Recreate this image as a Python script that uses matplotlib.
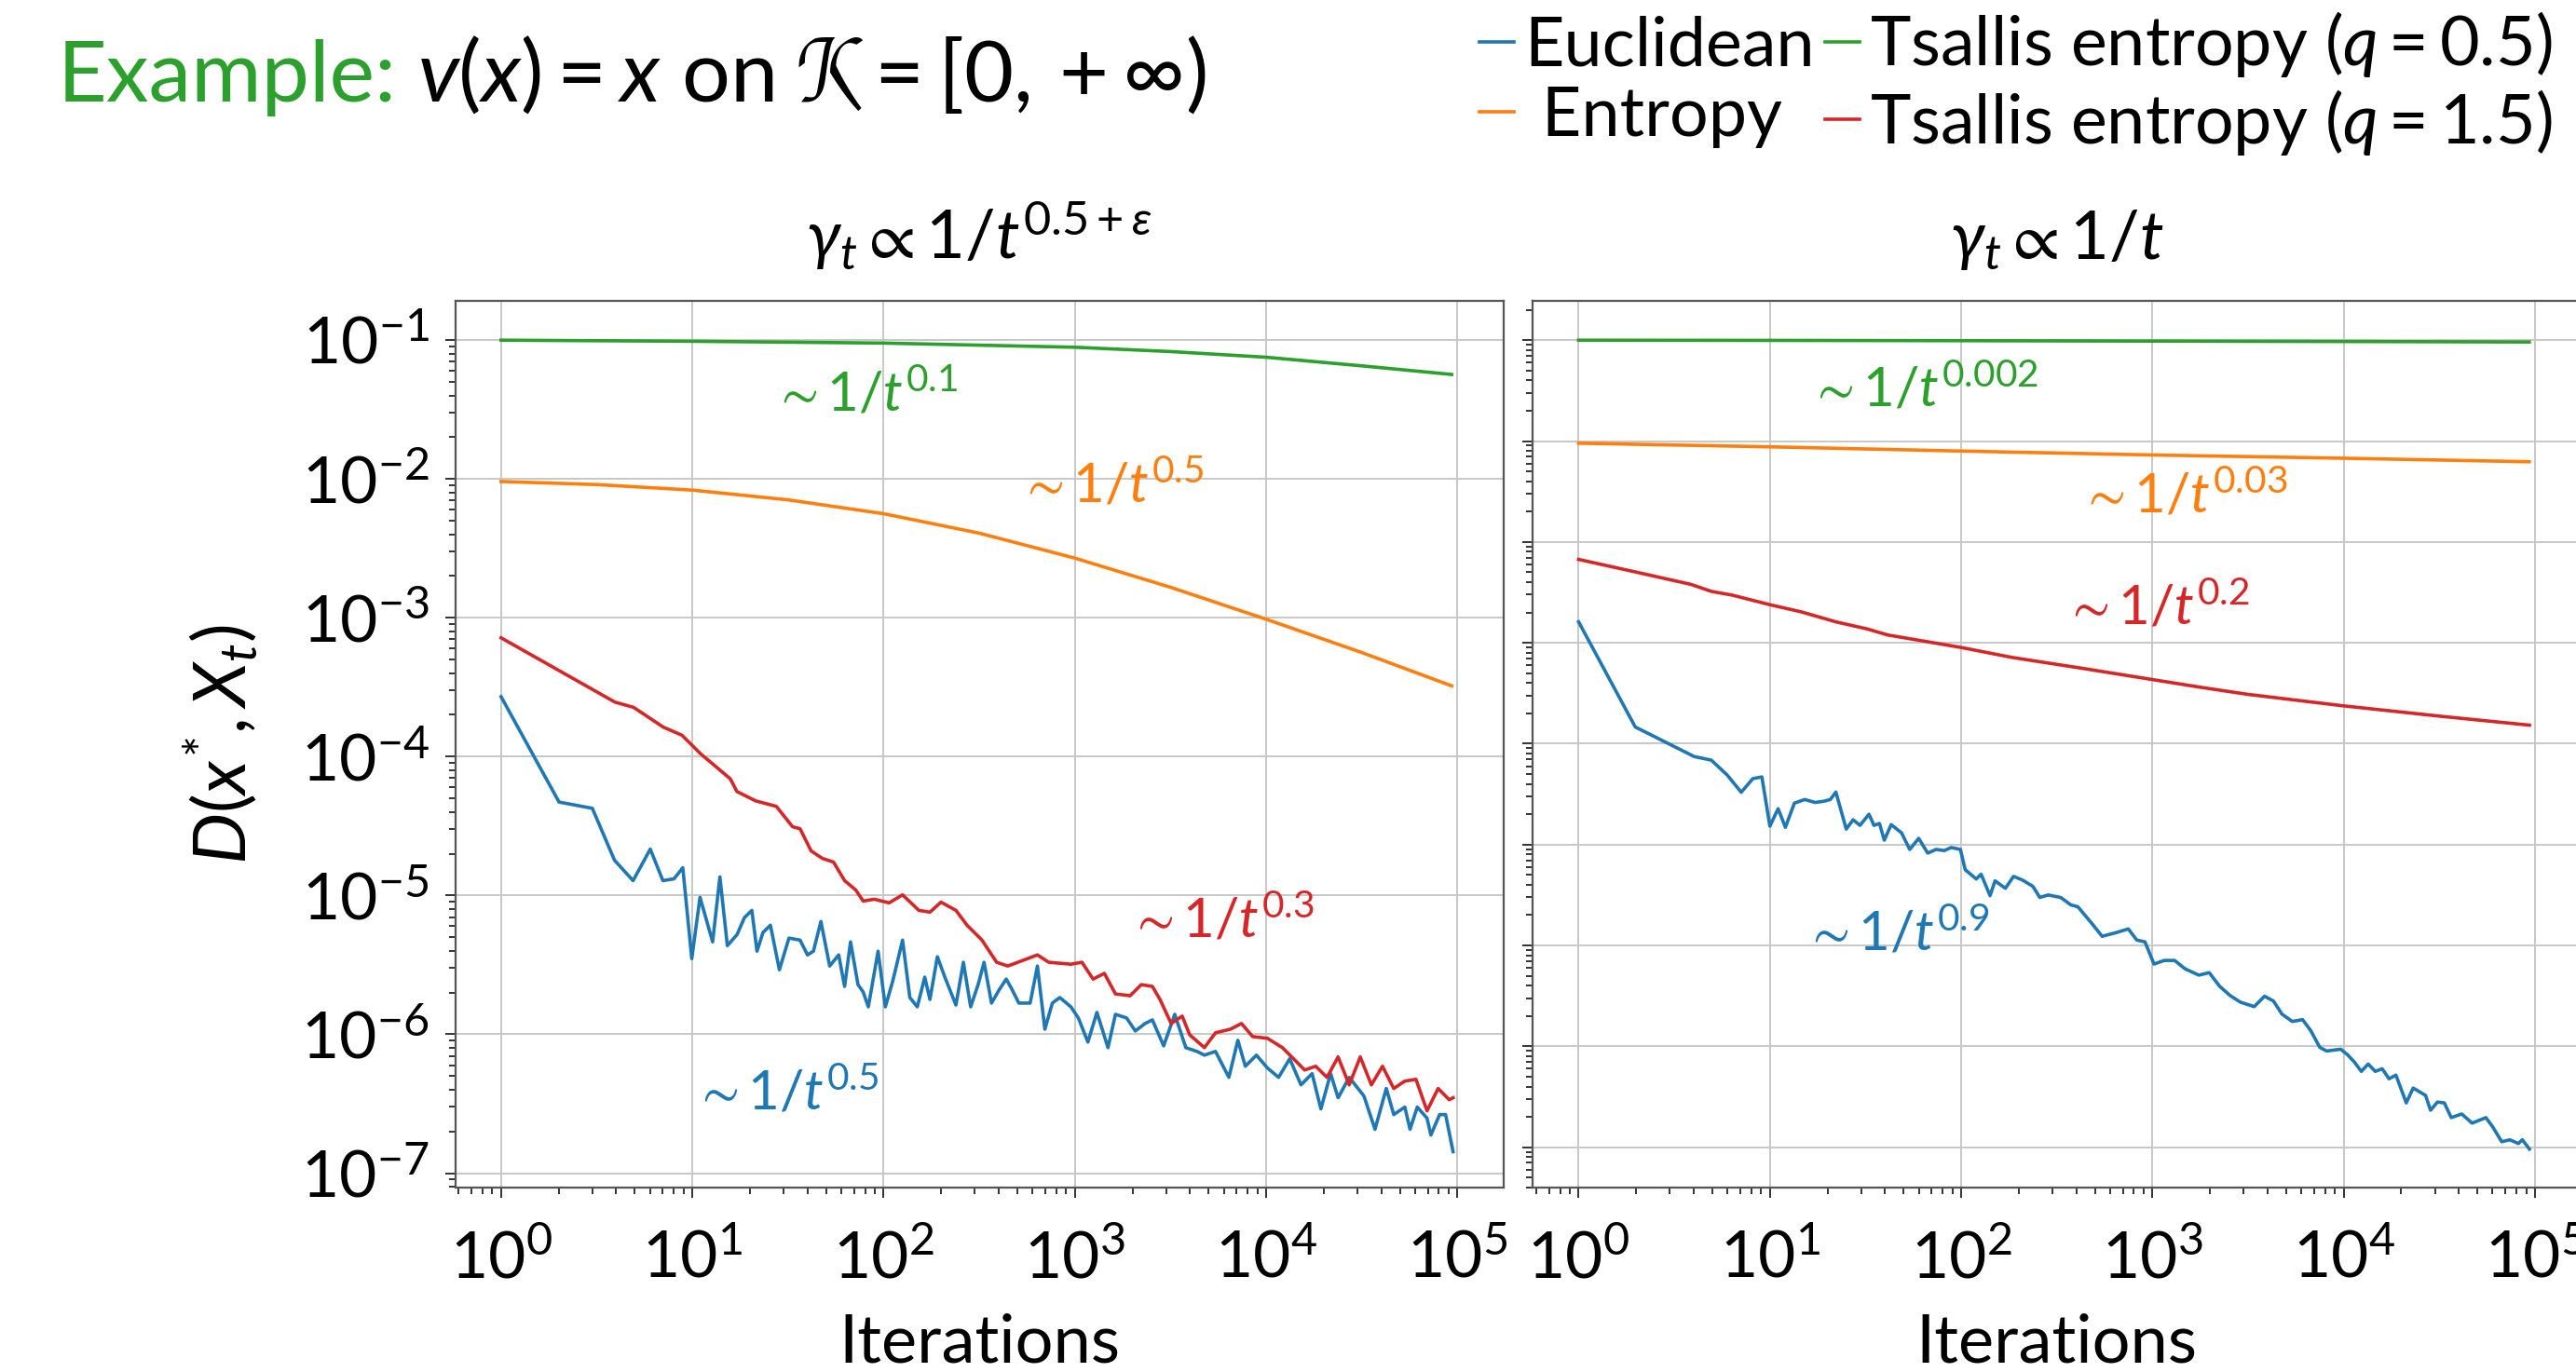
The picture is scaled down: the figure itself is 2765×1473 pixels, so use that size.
import numpy as np
import matplotlib
matplotlib.use("Agg")
import matplotlib.pyplot as plt
from matplotlib.ticker import LogLocator, NullFormatter

plt.rcParams['font.family'] = ['Lato', 'DejaVu Sans']
plt.rcParams['mathtext.fontset'] = 'custom'
plt.rcParams['mathtext.rm'] = 'Lato'
plt.rcParams['mathtext.it'] = 'Lato:italic'
plt.rcParams['mathtext.bf'] = 'Lato:bold'
plt.rcParams['mathtext.sf'] = 'Lato'
plt.rcParams['mathtext.fallback'] = 'stixsans'

C_EUC, C_ENT, C_TS05, C_TS15 = '#1f77b4', '#ff7f0e', '#2ca02c', '#d62728'

# ---- left panel, gamma_t ~ 1/t^(0.5+eps)  (log10 t, log10 D) ----
L_green_t = [0, 1, 2, 3, 3.5, 4, 4.5, 4.97]
L_green_d = [-1.0, -1.008, -1.021, -1.051, -1.082, -1.123, -1.185, -1.247]

L_orange_t = [0, 0.5, 1, 1.5, 2, 2.5, 3, 3.5, 4, 4.5, 4.97]
L_orange_d = [-2.018, -2.04, -2.08, -2.15, -2.25, -2.39, -2.57, -2.78, -3.01, -3.25, -3.49]

L_red_t = [0, 0.595, 0.693, 0.848, 0.946, 1.043, 1.198, 1.233, 1.33, 1.439, 1.524, 1.563,
           1.621, 1.68, 1.738, 1.796, 1.854, 1.893, 1.951, 2.029, 2.099, 2.184, 2.242, 2.3,
           2.378, 2.436, 2.514, 2.591, 2.649, 2.727, 2.804, 2.863, 2.979, 3.037, 3.095, 3.154,
           3.212, 3.289, 3.347, 3.405, 3.445, 3.503, 3.561, 3.6, 3.677, 3.735, 3.813, 3.871,
           3.929, 4.007, 4.085, 4.143, 4.201, 4.259, 4.318, 4.376, 4.434, 4.492, 4.55, 4.608,
           4.667, 4.725, 4.783, 4.841, 4.899, 4.957, 4.977]
L_red_d = [-3.144, -3.607, -3.645, -3.787, -3.846, -3.979, -4.159, -4.251, -4.318, -4.358,
           -4.505, -4.519, -4.679, -4.733, -4.759, -4.893, -4.96, -5.04, -5.027, -5.053,
           -4.995, -5.107, -5.12, -5.048, -5.107, -5.214, -5.321, -5.481, -5.508, -5.468,
           -5.428, -5.481, -5.495, -5.481, -5.602, -5.561, -5.709, -5.722, -5.642, -5.655,
           -5.749, -5.922, -5.869, -6.003, -6.096, -5.989, -5.963, -5.922, -6.016, -6.029,
           -6.096, -6.176, -6.257, -6.23, -6.31, -6.163, -6.364, -6.163, -6.364, -6.23,
           -6.39, -6.337, -6.324, -6.551, -6.39, -6.471, -6.457]

L_blue_t = [0, 0.303, 0.477, 0.593, 0.69, 0.78, 0.846, 0.904, 0.95, 0.997, 1.04, 1.106,
            1.144, 1.183, 1.234, 1.272, 1.311, 1.338, 1.369, 1.408, 1.455, 1.505, 1.563,
            1.602, 1.633, 1.672, 1.718, 1.765, 1.796, 1.827, 1.866, 1.893, 1.92, 1.971,
            2.009, 2.048, 2.099, 2.137, 2.176, 2.215, 2.242, 2.281, 2.32, 2.378, 2.417,
            2.455, 2.494, 2.525, 2.564, 2.603, 2.641, 2.668, 2.707, 2.766, 2.804, 2.843,
            2.882, 2.921, 2.979, 3.018, 3.068, 3.115, 3.173, 3.212, 3.27, 3.316, 3.367,
            3.405, 3.464, 3.522, 3.58, 3.638, 3.677, 3.735, 3.805, 3.852, 3.891, 3.949,
            4.007, 4.065, 4.123, 4.182, 4.24, 4.286, 4.337, 4.376, 4.434, 4.511, 4.569,
            4.628, 4.667, 4.725, 4.752, 4.79, 4.841, 4.861, 4.907, 4.938, 4.977]
L_blue_d = [-3.568, -4.327, -4.372, -4.746, -4.893, -4.666, -4.893, -4.88, -4.8, -5.455,
            -5.013, -5.334, -4.866, -5.361, -5.281, -5.16, -5.107, -5.401, -5.267, -5.214,
            -5.535, -5.307, -5.321, -5.428, -5.401, -5.187, -5.508, -5.428, -5.655, -5.334,
            -5.642, -5.695, -5.802, -5.401, -5.802, -5.615, -5.321, -5.735, -5.802, -5.588,
            -5.749, -5.441, -5.588, -5.789, -5.481, -5.802, -5.642, -5.481, -5.775, -5.682,
            -5.602, -5.668, -5.775, -5.775, -5.508, -5.963, -5.775, -5.735, -5.802, -5.882,
            -6.056, -5.842, -6.096, -5.856, -5.882, -5.976, -5.922, -5.896, -6.083, -5.856,
            -6.096, -6.123, -6.15, -6.123, -6.31, -6.043, -6.23, -6.15, -6.243, -6.31,
            -6.176, -6.364, -6.283, -6.537, -6.283, -6.457, -6.31, -6.444, -6.684, -6.39,
            -6.578, -6.524, -6.684, -6.524, -6.604, -6.725, -6.578, -6.578, -6.845]

# ---- right panel, gamma_t ~ 1/t ----
R_green_t = [0, 1, 2, 3, 4, 4.97]
R_green_d = [-1.0, -1.002, -1.005, -1.009, -1.013, -1.018]

R_orange_t = [0, 1, 2, 3, 4, 4.97]
R_orange_d = [-2.021, -2.057, -2.099, -2.138, -2.17, -2.205]

R_red_t = [0, 0.296, 0.586, 0.694, 0.803, 1.0, 1.164, 1.345, 1.508, 1.616, 2.0, 2.267,
           2.628, 3.0, 3.25, 3.496, 4.0, 4.508, 4.971]
R_red_d = [-3.173, -3.297, -3.42, -3.49, -3.527, -3.622, -3.693, -3.792, -3.862, -3.922,
           -4.046, -4.145, -4.251, -4.364, -4.44, -4.51, -4.625, -4.728, -4.816]

R_blue_t = [0, 0.296, 0.604, 0.694, 0.777, 0.85, 0.911, 0.958, 1.0, 1.043, 1.081, 1.128,
            1.182, 1.236, 1.28, 1.316, 1.345, 1.399, 1.435, 1.471, 1.518, 1.544, 1.573,
            1.598, 1.634, 1.688, 1.731, 1.778, 1.825, 1.869, 1.912, 1.948, 1.996, 2.021,
            2.079, 2.104, 2.151, 2.177, 2.231, 2.274, 2.321, 2.375, 2.411, 2.455, 2.52,
            2.574, 2.61, 2.683, 2.737, 2.809, 2.874, 2.918, 2.961, 3.008, 3.062, 3.116,
            3.171, 3.243, 3.297, 3.351, 3.406, 3.46, 3.532, 3.586, 3.633, 3.677, 3.731,
            3.785, 3.828, 3.875, 3.911, 3.984, 4.02, 4.056, 4.092, 4.128, 4.165, 4.201,
            4.237, 4.273, 4.327, 4.363, 4.428, 4.454, 4.49, 4.526, 4.562, 4.617, 4.671,
            4.743, 4.779, 4.826, 4.869, 4.913, 4.934, 4.971]
R_blue_d = [-3.792, -4.834, -5.127, -5.163, -5.311, -5.481, -5.346, -5.329, -5.817, -5.644,
            -5.828, -5.589, -5.553, -5.582, -5.571, -5.553, -5.479, -5.846, -5.754, -5.809,
            -5.699, -5.809, -5.791, -5.956, -5.802, -5.883, -6.048, -5.938, -6.084, -6.048,
            -6.059, -6.029, -6.048, -6.249, -6.341, -6.293, -6.506, -6.359, -6.433, -6.315,
            -6.352, -6.414, -6.524, -6.499, -6.524, -6.598, -6.616, -6.781, -6.909, -6.873,
            -6.836, -6.946, -6.964, -7.184, -7.148, -7.148, -7.232, -7.294, -7.269, -7.404,
            -7.496, -7.562, -7.606, -7.503, -7.551, -7.68, -7.753, -7.735, -7.845, -8.01,
            -8.046, -8.028, -8.083, -8.156, -8.248, -8.175, -8.248, -8.222, -8.321, -8.285,
            -8.56, -8.413, -8.486, -8.633, -8.552, -8.56, -8.706, -8.67, -8.761, -8.706,
            -8.798, -8.945, -8.926, -8.963, -8.926, -9.018]

labels = ['Euclidean', ' Entropy', r'Tsallis entropy ($q = 0.5$)', r'Tsallis entropy ($q = 1.5$)']

# rate annotations: (text, log10 t, log10 D, colour)
L_notes = [(r'$\sim 1/t^{0.1}$', 1.418, -1.39, C_TS05),
           (r'$\sim 1/t^{0.5}$', 2.706, -2.05, C_ENT),
           (r'$\sim 1/t^{0.3}$', 3.28, -5.18, C_TS15),
           (r'$\sim 1/t^{0.5}$', 1.005, -6.42, C_EUC)]
R_notes = [(r'$\sim 1/t^{0.002}$', 1.203, -1.49, C_TS05),
           (r'$\sim 1/t^{0.03}$', 2.62, -2.547, C_ENT),
           (r'$\sim 1/t^{0.2}$', 2.534, -3.655, C_TS15),
           (r'$\sim 1/t^{0.9}$', 1.177, -6.88, C_EUC)]

fig = plt.figure(figsize=(13.825, 7.365), dpi=200)
ax1 = fig.add_axes([0.1767, 0.1341, 0.4069, 0.6467])
ax2 = fig.add_axes([0.595, 0.1341, 0.4069, 0.6467])

lw = 1.3
p = lambda a: 10 ** np.array(a)

for ax, data, notes, ylim, title in [
        (ax1, [(L_blue_t, L_blue_d), (L_orange_t, L_orange_d), (L_green_t, L_green_d), (L_red_t, L_red_d)],
         L_notes, (-7.107, -0.716), r'$\gamma_t \propto 1/t^{0.5+\epsilon}$'),
        (ax2, [(R_blue_t, R_blue_d), (R_orange_t, R_orange_d), (R_green_t, R_green_d), (R_red_t, R_red_d)],
         R_notes, (-9.404, -0.609), r'$\gamma_t \propto 1/t$')]:
    for (tt, dd), c in zip(data, [C_EUC, C_ENT, C_TS05, C_TS15]):
        ax.plot(p(tt), p(dd), color=c, lw=lw)
    for txt, xt, yd, c in notes:
        ax.text(10 ** xt, 10 ** yd, txt, color=c, fontsize=21, ha='left', va='center')
    ax.set_xscale('log')
    ax.set_yscale('log')
    ax.set_xlim(10 ** -0.24, 10 ** 5.24)
    ax.set_ylim(10 ** ylim[0], 10 ** ylim[1])
    for axis in (ax.xaxis, ax.yaxis):
        axis.set_major_locator(LogLocator(base=10, numticks=20))
        axis.set_minor_locator(LogLocator(base=10, subs=np.arange(2, 10), numticks=20))
        axis.set_minor_formatter(NullFormatter())
    ax.grid(True, which='major', color='#c8c8c8', lw=0.7)
    ax.set_axisbelow(True)
    for s in ax.spines.values():
        s.set_color('#555555')
        s.set_linewidth(0.8)
    ax.tick_params(which='both', colors='#333333', labelcolor='black', labelsize=25, width=0.7)
    ax.tick_params(which='major', length=4)
    ax.tick_params(which='minor', length=2.5)
    ax.tick_params(axis='x', pad=12)
    ax.tick_params(axis='y', pad=6)
    ax.set_xlabel('Iterations', fontsize=26, labelpad=9)
    ax.set_title(title, fontsize=26, pad=16)

ax2.tick_params(axis='y', labelleft=False)
ax1.set_ylabel(r'$D(x^{*}, X_t)$', fontsize=28, labelpad=16)

fig.legend(ax1.get_lines(), labels, loc='upper right', bbox_to_anchor=(1.004, 1.018),
           ncol=2, frameon=False, fontsize=26.5, handlelength=0.5, handletextpad=0.15,
           columnspacing=0.15, labelspacing=0.12, borderaxespad=0.1)

t1 = fig.text(0.0223, 0.926, 'Example:', color=C_TS05, fontsize=33, va='baseline')
fig.canvas.draw()
bb = t1.get_window_extent()
x1 = fig.transFigure.inverted().transform((bb.x1, bb.y0))[0]
fig.text(x1 + 0.008, 0.926, r'$v(x) = x$ on $\mathcal{K} = [0, +\infty)$', fontsize=33, va='baseline')

fig.savefig('out.png', dpi=200)
